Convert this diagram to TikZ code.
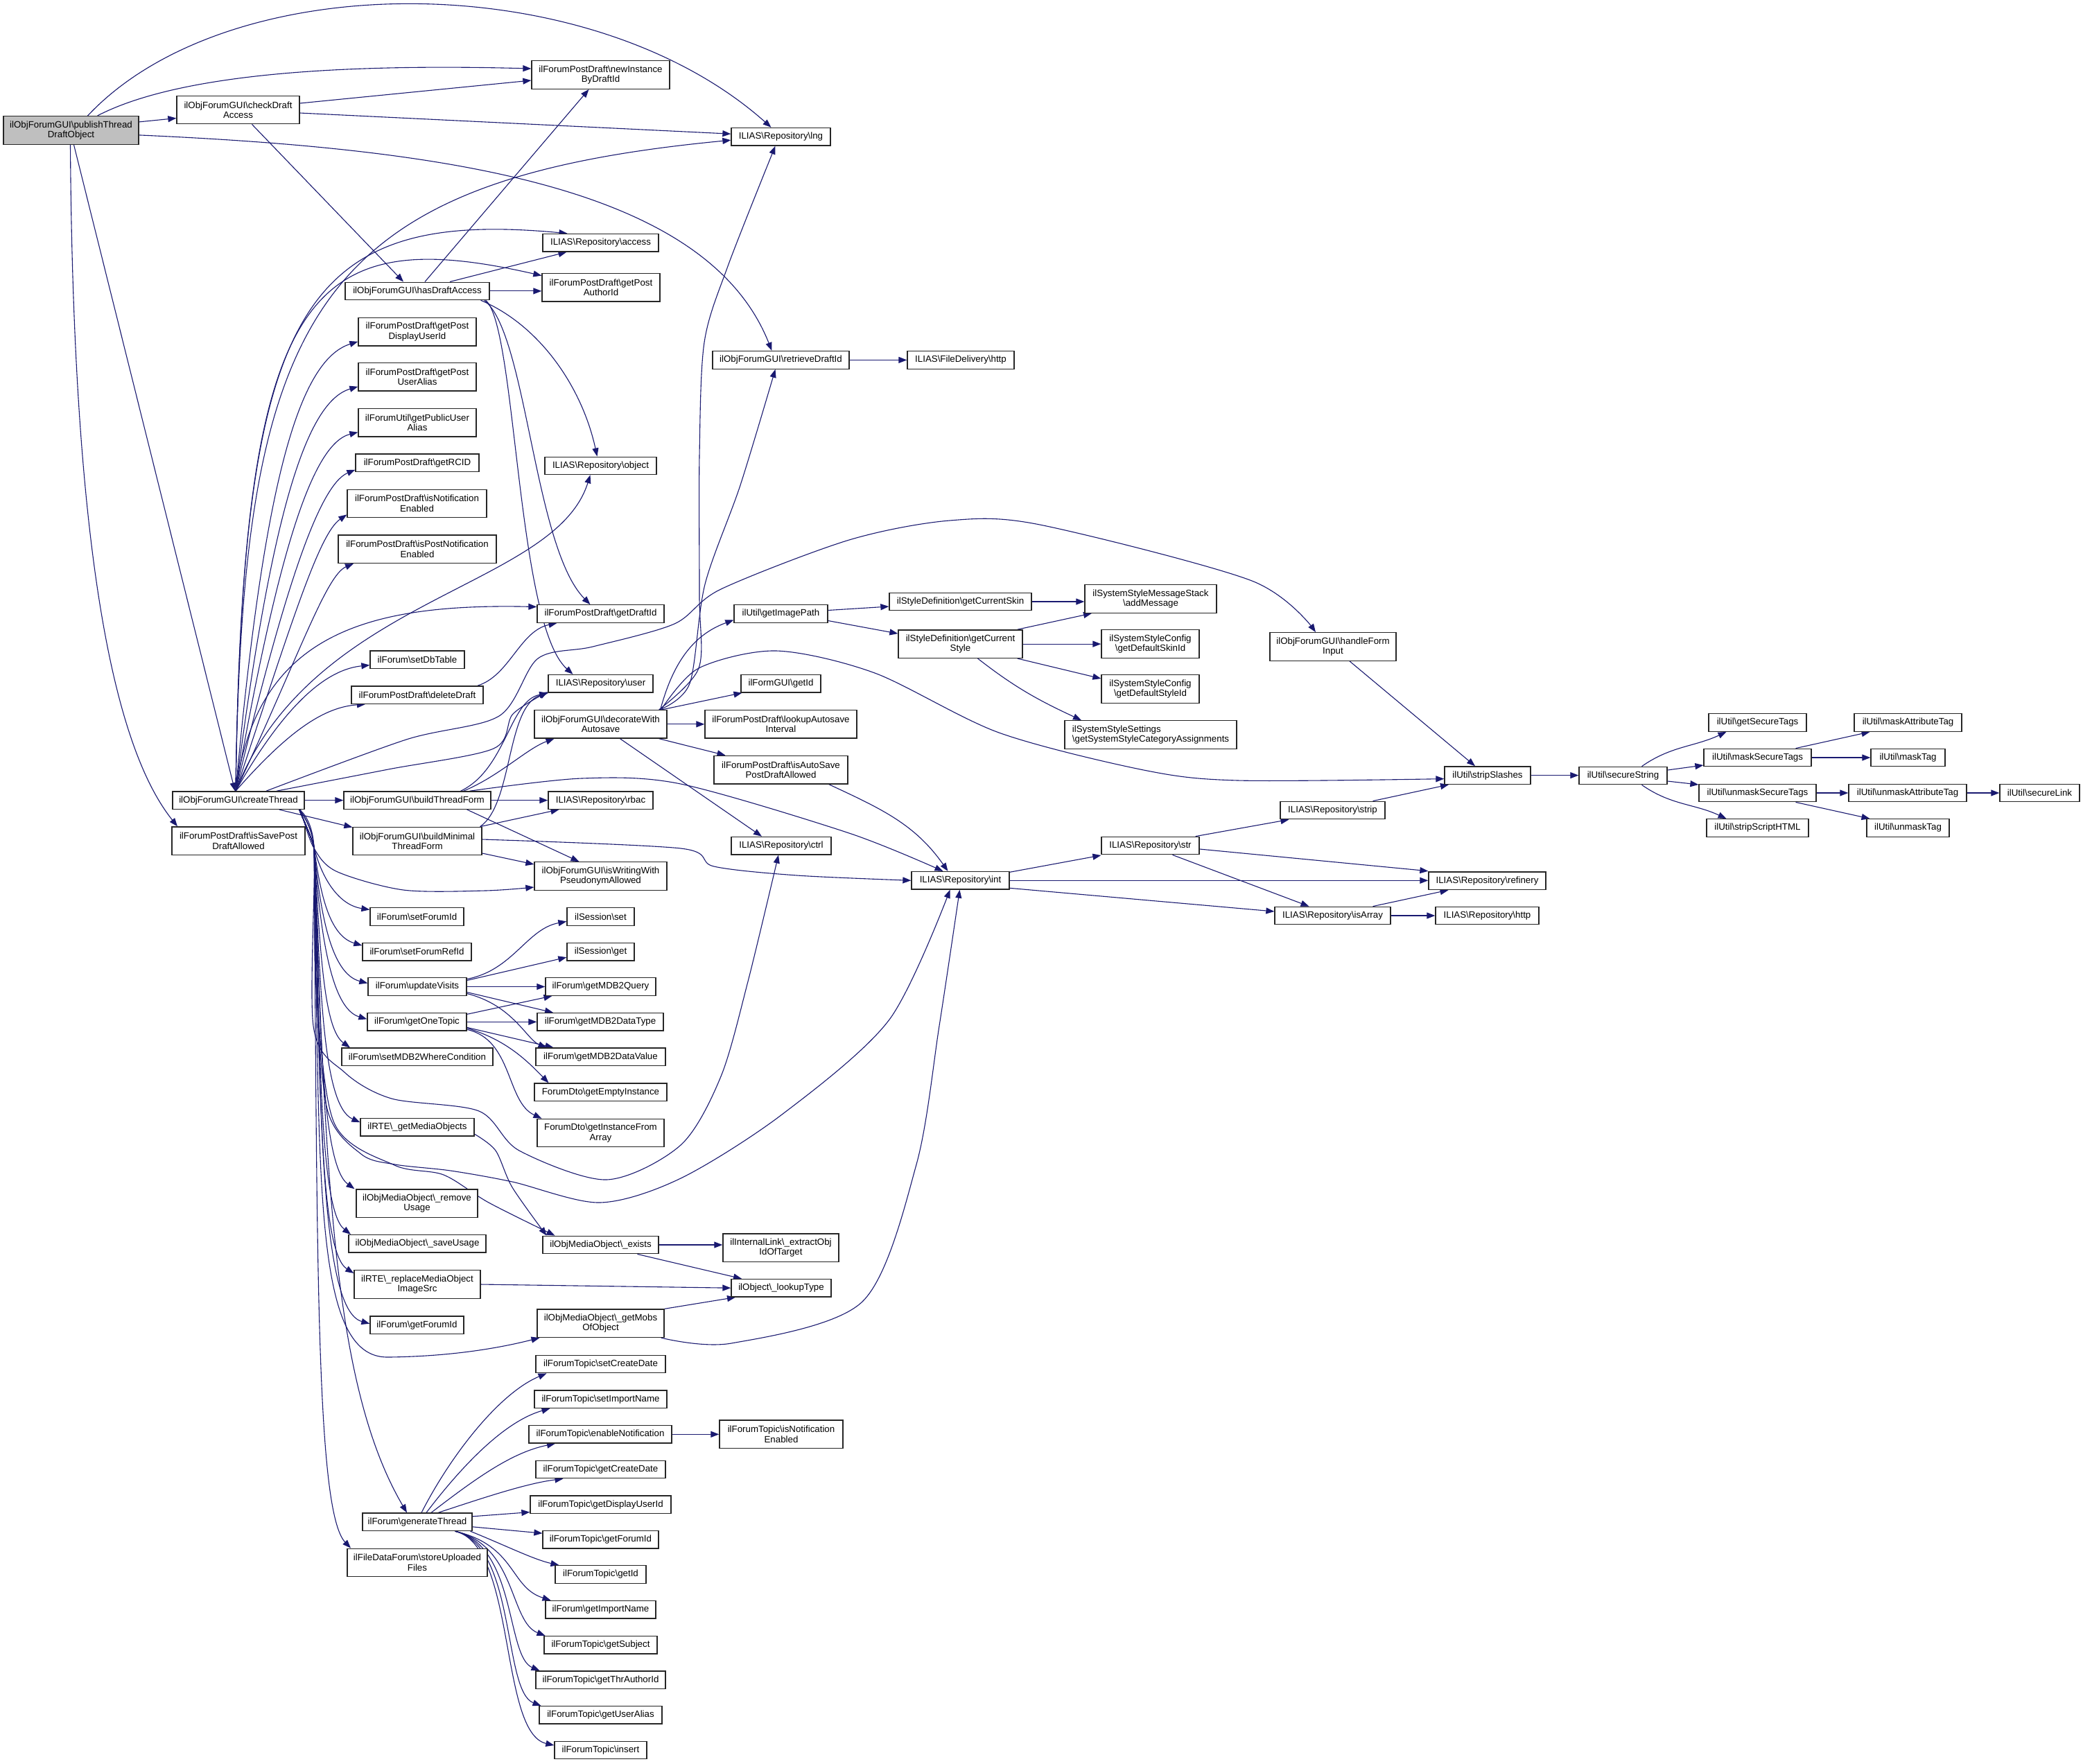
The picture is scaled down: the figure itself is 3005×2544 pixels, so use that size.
\documentclass[tikz,border=0pt]{standalone}
\usepackage{fontspec}
\setmainfont{Liberation Sans}
\usetikzlibrary{arrows.meta}
\definecolor{edgeblue}{RGB}{25,25,112}
\definecolor{hilite}{RGB}{191,191,191}
\newcommand{\bsl}{\textbackslash{}}
\pgfdeclarelayer{edges}
\pgfsetlayers{edges,main}
\tikzset{
  fun/.style={draw=black!85, line width=1.3pt, fill=white, inner sep=0pt, align=center,
    minimum height=25.5pt, font=\fontsize{13.3}{14.5}\selectfont},
  fun2/.style={fun, minimum height=40.5pt},
  callarrow/.style={draw=edgeblue, line width=1.1pt, -{Triangle[length=12pt,width=9pt]}},
}
\begin{document}
\begin{tikzpicture}[x=1pt,y=1pt]
\useasboundingbox (0,0) rectangle (3005,-2544);
% column 1
\node[fun2, minimum width=195pt, fill=hilite] (pub) at (102.5,-187.9) {ilObjForumGUI\bsl publishThread\\DraftObject};
\node[fun2, minimum width=177pt] (chk) at (343.5,-158.5) {ilObjForumGUI\bsl checkDraft\\Access};
\node[fun, minimum width=190pt] (ct) at (344,-1154.6) {ilObjForumGUI\bsl createThread};
\node[fun2, minimum width=192pt] (issp) at (344,-1213.2) {ilForumPostDraft\bsl isSavePost\\DraftAllowed};
% column 2
\node[fun, minimum width=208pt] (has) at (602,-419.9) {ilObjForumGUI\bsl hasDraftAccess};
\node[fun2, minimum width=170pt] (gpdu) at (602,-478.8) {ilForumPostDraft\bsl getPost\\DisplayUserId};
\node[fun2, minimum width=170pt] (gpua) at (602,-543.8) {ilForumPostDraft\bsl getPost\\UserAlias};
\node[fun2, minimum width=170pt] (fpua) at (602,-609.6) {ilForumUtil\bsl getPublicUser\\Alias};
\node[fun, minimum width=178pt] (rcid) at (602,-667.7) {ilForumPostDraft\bsl getRCID};
\node[fun2, minimum width=201pt] (isne) at (601.5,-726.4) {ilForumPostDraft\bsl isNotification\\Enabled};
\node[fun2, minimum width=228pt] (ispne) at (602,-792.2) {ilForumPostDraft\bsl isPostNotification\\Enabled};
\node[fun, minimum width=136pt] (setdb) at (602,-951.6) {ilForum\bsl setDbTable};
\node[fun, minimum width=190pt] (deld) at (602,-1002.6) {ilForumPostDraft\bsl deleteDraft};
\node[fun, minimum width=212pt] (btf) at (602,-1154.6) {ilObjForumGUI\bsl buildThreadForm};
\node[fun2, minimum width=186pt] (bmtf) at (602,-1213.5) {ilObjForumGUI\bsl buildMinimal\\ThreadForm};
\node[fun, minimum width=135pt] (sfid) at (601.5,-1322.4) {ilForum\bsl setForumId};
\node[fun, minimum width=157pt] (sfrid) at (601.5,-1373.1) {ilForum\bsl setForumRefId};
\node[fun, minimum width=142pt] (uv) at (602,-1423.5) {ilForum\bsl updateVisits};
\node[fun, minimum width=143pt] (got) at (601.5,-1474.3) {ilForum\bsl getOneTopic};
\node[fun, minimum width=218pt] (smwc) at (602,-1524.8) {ilForum\bsl setMDB2WhereCondition};
\node[fun, minimum width=164pt] (gmo) at (602,-1626.2) {ilRTE\bsl \_getMediaObjects};
\node[fun2, minimum width=175pt] (rmu) at (601.5,-1736.2) {ilObjMediaObject\bsl \_remove\\Usage};
\node[fun, minimum width=198pt] (svu) at (602,-1794.3) {ilObjMediaObject\bsl \_saveUsage};
\node[fun2, minimum width=182pt] (rmis) at (602,-1853) {ilRTE\bsl \_replaceMediaObject\\ImageSrc};
\node[fun, minimum width=135pt] (gfid) at (601.5,-1911.7) {ilForum\bsl getForumId};
\node[fun, minimum width=158pt] (gt) at (602,-2195.8) {ilForum\bsl generateThread};
\node[fun2, minimum width=202pt] (suf) at (602,-2254.4) {ilFileDataForum\bsl storeUploaded\\Files};
% column 3
\node[fun2, minimum width=199pt] (newinst) at (866.5,-108) {ilForumPostDraft\bsl newInstance\\ByDraftId};
\node[fun, minimum width=167pt] (access) at (866.5,-350.2) {ILIAS\bsl Repository\bsl access};
\node[fun2, minimum width=170pt] (gpai) at (867,-414.6) {ilForumPostDraft\bsl getPost\\AuthorId};
\node[fun, minimum width=161pt] (object) at (866.5,-671.9) {ILIAS\bsl Repository\bsl object};
\node[fun, minimum width=183pt] (gdid) at (866.5,-885.5) {ilForumPostDraft\bsl getDraftId};
\node[fun, minimum width=151pt] (user) at (866.5,-986.2) {ILIAS\bsl Repository\bsl user};
\node[fun2, minimum width=191pt] (deco) at (866.5,-1044.8) {ilObjForumGUI\bsl decorateWith\\Autosave};
\node[fun, minimum width=151pt] (rbac) at (866.5,-1154.6) {ILIAS\bsl Repository\bsl rbac};
\node[fun2, minimum width=191pt] (iswp) at (866.5,-1264) {ilObjForumGUI\bsl isWritingWith\\PseudonymAllowed};
\node[fun, minimum width=97pt] (sset) at (866.5,-1322.4) {ilSession\bsl set};
\node[fun, minimum width=97pt] (sget) at (866.5,-1373.1) {ilSession\bsl get};
\node[fun, minimum width=159pt] (mq) at (866.5,-1423.5) {ilForum\bsl getMDB2Query};
\node[fun, minimum width=182pt] (mdt) at (866,-1474.3) {ilForum\bsl getMDB2DataType};
\node[fun, minimum width=187pt] (mdv) at (866.5,-1524.8) {ilForum\bsl getMDB2DataValue};
\node[fun, minimum width=191pt] (gei) at (866.5,-1575.8) {ForumDto\bsl getEmptyInstance};
\node[fun2, minimum width=183pt] (gifa) at (866.5,-1634.5) {ForumDto\bsl getInstanceFrom\\Array};
\node[fun, minimum width=167pt] (exists) at (866.5,-1796) {ilObjMediaObject\bsl \_exists};
\node[fun2, minimum width=183pt] (gmob) at (866.5,-1909.2) {ilObjMediaObject\bsl \_getMobs\\OfObject};
\node[fun, minimum width=187pt] (tscd) at (866.5,-1968) {ilForumTopic\bsl setCreateDate};
\node[fun, minimum width=191pt] (tsin) at (866.5,-2018.6) {ilForumTopic\bsl setImportName};
\node[fun, minimum width=206pt] (ten) at (866,-2069.3) {ilForumTopic\bsl enableNotification};
\node[fun, minimum width=187pt] (tgcd) at (866.5,-2120) {ilForumTopic\bsl getCreateDate};
\node[fun, minimum width=203pt] (tgdu) at (866.5,-2170.6) {ilForumTopic\bsl getDisplayUserId};
\node[fun, minimum width=167pt] (tgfi) at (866.5,-2221.1) {ilForumTopic\bsl getForumId};
\node[fun, minimum width=131pt] (tgid) at (866.5,-2271.5) {ilForumTopic\bsl getId};
\node[fun, minimum width=159pt] (fgin) at (866.5,-2322.2) {ilForum\bsl getImportName};
\node[fun, minimum width=163pt] (tgsu) at (866.5,-2373.2) {ilForumTopic\bsl getSubject};
\node[fun, minimum width=187pt] (tgta) at (866.5,-2423.6) {ilForumTopic\bsl getThrAuthorId};
\node[fun, minimum width=177pt] (tgua) at (866.5,-2474.3) {ilForumTopic\bsl getUserAlias};
\node[fun, minimum width=133pt] (tins) at (866.5,-2525) {ilForumTopic\bsl insert};
% column 4
\node[fun, minimum width=143pt] (lng) at (1126.5,-197.2) {ILIAS\bsl Repository\bsl lng};
\node[fun, minimum width=197pt] (retr) at (1126.5,-519.4) {ilObjForumGUI\bsl retrieveDraftId};
\node[fun, minimum width=135pt] (gip) at (1126.5,-885.5) {ilUtil\bsl getImagePath};
\node[fun, minimum width=115pt] (fgid) at (1126.5,-986.2) {ilFormGUI\bsl getId};
\node[fun2, minimum width=219pt] (las) at (1126.5,-1044.8) {ilForumPostDraft\bsl lookupAutosave\\Interval};
\node[fun2, minimum width=193pt] (iasp) at (1126.5,-1110.6) {ilForumPostDraft\bsl isAutoSave\\PostDraftAllowed};
\node[fun, minimum width=144pt] (ctrl) at (1127,-1220.1) {ILIAS\bsl Repository\bsl ctrl};
\node[fun2, minimum width=167pt] (extr) at (1126.5,-1800.1) {ilInternalLink\bsl \_extractObj\\IdOfTarget};
\node[fun, minimum width=144pt] (lkt) at (1127,-1858.2) {ilObject\bsl \_lookupType};
\node[fun2, minimum width=178pt] (tisne) at (1127,-2069.3) {ilForumTopic\bsl isNotification\\Enabled};
% column 5 and right
\node[fun, minimum width=154pt] (fdhttp) at (1386,-519.4) {ILIAS\bsl FileDelivery\bsl http};
\node[fun, minimum width=205pt] (gcsk) at (1385.5,-868) {ilStyleDefinition\bsl getCurrentSkin};
\node[fun2, minimum width=179pt] (gcst) at (1385.5,-929.1) {ilStyleDefinition\bsl getCurrent\\Style};
\node[fun, minimum width=141pt] (int) at (1385.5,-1270.3) {ILIAS\bsl Repository\bsl int};
\node[fun2, minimum width=190pt] (addm) at (1660,-864) {ilSystemStyleMessageStack\\\bsl addMessage};
\node[fun2, minimum width=141pt] (gdsk) at (1659.5,-929) {ilSystemStyleConfig\\\bsl getDefaultSkinId};
\node[fun2, minimum width=141pt] (gdst) at (1659.5,-994) {ilSystemStyleConfig\\\bsl getDefaultStyleId};
\node[fun2, minimum width=248pt, align=left] (ssca) at (1660,-1060) {ilSystemStyleSettings\\\bsl getSystemStyleCategoryAssignments};
\node[fun, minimum width=141pt] (str) at (1659.5,-1220) {ILIAS\bsl Repository\bsl str};
\node[fun2, minimum width=182pt] (hfi) at (1923,-933) {ilObjForumGUI\bsl handleForm\\Input};
\node[fun, minimum width=151pt] (strip) at (1922.5,-1169) {ILIAS\bsl Repository\bsl strip};
\node[fun, minimum width=167pt] (isarr) at (1922.5,-1321) {ILIAS\bsl Repository\bsl isArray};
\node[fun, minimum width=124pt] (sts) at (2146,-1118.6) {ilUtil\bsl stripSlashes};
\node[fun, minimum width=169pt] (refy) at (2145.5,-1270.7) {ILIAS\bsl Repository\bsl refinery};
\node[fun, minimum width=149pt] (rhttp) at (2145.5,-1321) {ILIAS\bsl Repository\bsl http};
\node[fun, minimum width=127pt] (ss) at (2341.5,-1119) {ilUtil\bsl secureString};
\node[fun, minimum width=141pt] (gst) at (2535.5,-1042.5) {ilUtil\bsl getSecureTags};
\node[fun, minimum width=155pt] (mst) at (2535.5,-1093) {ilUtil\bsl maskSecureTags};
\node[fun, minimum width=169pt] (umst) at (2535.5,-1144) {ilUtil\bsl unmaskSecureTags};
\node[fun, minimum width=147pt] (ssh) at (2535.5,-1194.5) {ilUtil\bsl stripScriptHTML};
\node[fun, minimum width=155pt] (mat) at (2752.5,-1042.5) {ilUtil\bsl maskAttributeTag};
\node[fun, minimum width=107pt] (mtag) at (2752.5,-1093) {ilUtil\bsl maskTag};
\node[fun, minimum width=170pt] (umat) at (2752,-1144) {ilUtil\bsl unmaskAttributeTag};
\node[fun, minimum width=119pt] (umtag) at (2752.5,-1194.5) {ilUtil\bsl unmaskTag};
\node[fun, minimum width=115pt] (slink) at (2942.5,-1144) {ilUtil\bsl secureLink};

\begin{pgfonlayer}{edges}
\fill[white] (0,0) rectangle (3005,-2544);
% publishThreadDraftObject
\draw[callarrow] ([xshift=24pt]pub.north) .. controls (330,50) and (850,50) .. ([xshift=-14pt]lng.north);
\draw[callarrow] ([xshift=38pt]pub.north) .. controls (260,-105) and (500,-92) .. ([yshift=9pt]newinst.west);
\draw[callarrow] ([yshift=12pt]pub.east) -- ([yshift=-12pt]chk.west);
\draw[callarrow] ([yshift=-7pt]pub.east) .. controls (650,-215) and (1020,-270) .. ([xshift=-13pt]retr.north);
\draw[callarrow] ([xshift=4pt]pub.south) -- ([xshift=-5pt]ct.north);
\draw[callarrow] ([xshift=-1pt]pub.south) .. controls (105,-720) and (150,-1060) .. ([xshift=-88pt]issp.north);
% checkDraftAccess
\draw[callarrow] ([yshift=9.5pt]chk.east) -- ([yshift=-8pt]newinst.west);
\draw[callarrow] ([yshift=-4.5pt]chk.east) -- ([yshift=4pt]lng.west);
\draw[callarrow] ([xshift=20pt]chk.south) -- ([xshift=-20pt]has.north);
% hasDraftAccess
\draw[callarrow] ([xshift=11pt]has.north) -- ([xshift=-17pt]newinst.south);
\draw[callarrow] ([xshift=47pt]has.north) -- ([xshift=-49pt]access.south);
\draw[callarrow] (has.east) -- (has.east -| gpai.west);
\draw[callarrow] ([xshift=-13pt]has.south east) .. controls (780,-470) and (840,-560) .. ([xshift=-5pt]object.north);
\draw[callarrow] ([xshift=-8pt]has.south east) .. controls (760,-480) and (770,-790) .. ([xshift=-15pt]gdid.north);
\draw[callarrow] ([xshift=-6pt]has.south east) .. controls (745,-470) and (745,-900) .. ([xshift=-40pt]user.north);
% createThread, upwards
\draw[callarrow] ([xshift=-4pt]ct.north) .. controls (350,-450) and (450,-260) .. ([yshift=-5pt]lng.west);
\draw[callarrow] ([xshift=-4pt]ct.north) .. controls (350,-450) and (430,-300) .. ([xshift=-48pt]access.north);
\draw[callarrow] ([xshift=-4pt]ct.north) .. controls (350,-420) and (440,-320) .. ([yshift=17pt]gpai.west);
\draw[callarrow] ([xshift=-4pt]ct.north) .. controls (380,-700) and (430,-520) .. ([yshift=-14pt]gpdu.west);
\draw[callarrow] ([xshift=-4pt]ct.north) .. controls (390,-750) and (440,-580) .. ([yshift=-14pt]gpua.west);
\draw[callarrow] ([xshift=-4pt]ct.north) .. controls (400,-800) and (450,-640) .. ([yshift=-14pt]fpua.west);
\draw[callarrow] ([xshift=-4pt]ct.north) .. controls (410,-850) and (460,-700) .. ([yshift=-10pt]rcid.west);
\draw[callarrow] ([xshift=-4pt]ct.north) .. controls (420,-900) and (460,-770) .. ([yshift=-16pt]isne.west);
\draw[callarrow] ([xshift=-4pt]ct.north) .. controls (430,-950) and (470,-830) .. ([xshift=-92pt]ispne.south);
\draw[callarrow] ([xshift=-4pt]ct.north) .. controls (450,-860) and (800,-850) .. ([xshift=-15pt]object.south);
\draw[callarrow] ([xshift=-4pt]ct.north) .. controls (370,-920) and (520,-870) .. ([yshift=10pt]gdid.west);
\draw[callarrow] ([xshift=-4pt]ct.north) .. controls (420,-1000) and (480,-965) .. ([yshift=-8pt]setdb.west);
\draw[callarrow] ([xshift=-4pt]ct.north) .. controls (420,-1050) and (470,-1020) .. ([xshift=-75pt]deld.south);
\draw[callarrow] plot[smooth] coordinates {([xshift=40pt]ct.north) (586,-1067) (720,-1033) (776,-950) (855,-933) (973,-900) (1040,-850) (1225,-779) (1370,-751) (1500,-757) (1806,-838) ([xshift=-25pt]hfi.north)};
\draw[callarrow] plot[smooth] coordinates {([xshift=55pt]ct.north) (560,-1110) (712,-1080) (740,-1030) ([yshift=-12pt]user.west)};
% createThread, sideways and downwards
\draw[callarrow] (ct.east) -- (btf.west);
\draw[callarrow] ([xshift=-37pt]ct.south east) -- ([yshift=20pt]bmtf.west);
\draw[callarrow] plot[smooth] coordinates {([xshift=-6pt]ct.south east) (452,-1222) (485,-1257) (582,-1284) (700,-1285) ([yshift=-16pt]iswp.west)};
\draw[callarrow] ([xshift=-8pt]ct.south east) .. controls (441,-1190) and (449,-1208) .. (453,-1222) .. controls (462,-1260) and (485,-1305) .. ([yshift=10pt]sfid.west);
\draw[callarrow] ([xshift=-8pt]ct.south east) .. controls (441,-1190) and (449,-1208) .. (453,-1222) .. controls (462,-1290) and (475,-1350) .. ([yshift=9pt]sfrid.west);
\draw[callarrow] ([xshift=-8pt]ct.south east) .. controls (441,-1190) and (449,-1208) .. (453,-1222) .. controls (462,-1320) and (478,-1405) .. ([yshift=5pt]uv.west);
\draw[callarrow] ([xshift=-8pt]ct.south east) .. controls (441,-1190) and (449,-1208) .. (453,-1222) .. controls (462,-1350) and (478,-1455) .. ([yshift=4pt]got.west);
\draw[callarrow] ([xshift=-8pt]ct.south east) .. controls (441,-1190) and (449,-1208) .. (453,-1222) .. controls (462,-1380) and (468,-1485) .. ([xshift=-97pt]smwc.north);
\draw[callarrow] ([xshift=-8pt]ct.south east) .. controls (441,-1190) and (449,-1208) .. (453,-1222) .. controls (462,-1420) and (465,-1595) .. ([yshift=7pt]gmo.west);
\draw[callarrow] ([xshift=-8pt]ct.south east) .. controls (441,-1190) and (449,-1208) .. (453,-1222) .. controls (462,-1450) and (462,-1680) .. ([xshift=-90pt]rmu.north);
\draw[callarrow] ([xshift=-8pt]ct.south east) .. controls (441,-1190) and (449,-1208) .. (453,-1222) .. controls (462,-1500) and (460,-1745) .. ([xshift=-96pt]svu.north);
\draw[callarrow] ([xshift=-8pt]ct.south east) .. controls (441,-1190) and (449,-1208) .. (453,-1222) .. controls (462,-1550) and (460,-1805) .. ([yshift=16pt]rmis.west);
\draw[callarrow] ([xshift=-8pt]ct.south east) .. controls (441,-1190) and (449,-1208) .. (453,-1222) .. controls (462,-1600) and (462,-1890) .. ([yshift=2pt]gfid.west);
\draw[callarrow] ([xshift=-8pt]ct.south east) .. controls (441,-1190) and (449,-1208) .. (453,-1222) .. controls (462,-1700) and (450,-1960) .. (560,-1958) .. controls (650,-1957) and (720,-1945) .. ([xshift=-88pt]gmob.south);
\draw[callarrow] ([xshift=-8pt]ct.south east) .. controls (441,-1190) and (449,-1208) .. (453,-1222) .. controls (470,-1700) and (480,-2000) .. ([xshift=-15pt]gt.north);
\draw[callarrow] ([xshift=-8pt]ct.south east) .. controls (441,-1190) and (449,-1208) .. (453,-1222) .. controls (458,-1800) and (455,-2180) .. ([xshift=-96pt]suf.north);
\draw[callarrow] plot[smooth] coordinates {([xshift=-8pt]ct.south east) (453,-1222) (452,-1480) (497,-1547) (565,-1585) (691,-1603) (749,-1660) (875,-1702) (982,-1652) (1040,-1553) (1079,-1416) ([xshift=-4pt]ctrl.south)};
\draw[callarrow] plot[smooth] coordinates {([xshift=-8pt]ct.south east) (453,-1222) (455,-1400) (472,-1600) (521,-1665) (570,-1680) (650,-1689) (739,-1705) (865,-1735) (982,-1700) (1128,-1608) (1283,-1471) ([xshift=-15pt]int.south)};
\draw[callarrow] plot[smooth] coordinates {([xshift=-8pt]ct.south east) (453,-1222) (456,-1420) (482,-1620) (569,-1681) (640,-1695) (705,-1735) ([xshift=-66pt]exists.north)};
% buildThreadForm, buildMinimalThreadForm
\draw[callarrow] ([xshift=-44pt]btf.north east) .. controls (730,-1110) and (735,-1010) .. ([yshift=-14pt]user.west);
\draw[callarrow] ([xshift=-40pt]btf.north east) .. controls (720,-1120) and (760,-1080) .. ([xshift=-67pt]deco.south);
\draw[callarrow] (btf.east) -- (btf.east -| rbac.west);
\draw[callarrow] ([xshift=-35pt]btf.south east) -- ([xshift=-31pt]iswp.north);
\draw[callarrow] plot[smooth] coordinates {([xshift=-31pt]btf.north east) (839,-1123) (982,-1131) (1225,-1202) ([xshift=-25pt]int.north)};
\draw[callarrow] ([xshift=-3pt]bmtf.north east) .. controls (740,-1160) and (730,-1020) .. ([yshift=-13pt]user.west);
\draw[callarrow] ([xshift=-3pt]bmtf.north east) -- ([xshift=-60pt]rbac.south);
\draw[callarrow] ([yshift=-17.5pt]bmtf.east) -- ([yshift=17pt]iswp.west);
\draw[callarrow] plot[smooth] coordinates {([yshift=2.5pt]bmtf.east) (982,-1224) (1030,-1250) (1150,-1263) (int.west)};
% deleteDraft
\draw[callarrow] ([xshift=87pt]deld.north) .. controls (735,-975) and (750,-910) .. ([xshift=-63pt]gdid.south);
% decorateWithAutosave
\draw[callarrow] plot[smooth] coordinates {([xshift=-12pt]deco.north east) (1008,-964) (1009,-860) (1009,-658) (1016,-494) (1050,-384) ([xshift=-8pt]lng.south)};
\draw[callarrow] plot[smooth] coordinates {([xshift=-11pt]deco.north east) (995,-986) (1017,-843) (1068,-700) ([xshift=-8pt]retr.south)};
\draw[callarrow] ([xshift=-10pt]deco.north east) to[out=75,in=200] ([yshift=-9pt]gip.west);
\draw[callarrow] ([xshift=-8pt]deco.north east) -- ([xshift=-56pt]fgid.south);
\draw[callarrow] (deco.east) -- (deco.east -| las.west);
\draw[callarrow] ([xshift=-12pt]deco.south east) -- ([xshift=-80pt]iasp.north);
\draw[callarrow] ([xshift=28pt]deco.south) -- ([xshift=-28pt]ctrl.north);
\draw[callarrow] plot[smooth] coordinates {([xshift=-9pt]deco.north east) (1008,-964) (1120,-939) (1262,-971) (1441,-1057) (1650,-1111) (1786,-1126) ([yshift=-5pt]sts.west)};
% style definition
\draw[callarrow] ([yshift=5pt]gip.east) -- ([yshift=-7pt]gcsk.west);
\draw[callarrow] ([yshift=-10pt]gip.east) -- ([yshift=15pt]gcst.west);
\draw[callarrow] (gcsk.east) -- (gcsk.east -| addm.west);
\draw[callarrow] ([xshift=-8pt]gcst.north east) -- ([xshift=-85pt]addm.south);
\draw[callarrow] (gcst.east) -- (gcst.east -| gdsk.west);
\draw[callarrow] ([xshift=-8pt]gcst.south east) -- ([yshift=15pt]gdst.west);
\draw[callarrow] ([xshift=25pt]gcst.south) to[out=-38,in=155] ([xshift=-100pt]ssca.north);
% stripSlashes and secureString
\draw[callarrow] ([xshift=24pt]hfi.south) -- ([xshift=-18pt]sts.north);
\draw[callarrow] ([xshift=58pt]strip.north) -- ([xshift=-56pt]sts.south);
\draw[callarrow] (sts.east) -- (sts.east -| ss.west);
\draw[callarrow] ([xshift=27pt]ss.north) to[out=35,in=205] ([xshift=-45pt]gst.south);
\draw[callarrow] ([yshift=8pt]ss.east) -- ([yshift=-11pt]mst.west);
\draw[callarrow] ([yshift=-8pt]ss.east) -- ([yshift=12pt]umst.west);
\draw[callarrow] ([xshift=27pt]ss.south) to[out=-35,in=155] ([xshift=-45pt]ssh.north);
\draw[callarrow] ([xshift=55pt]mst.north) -- ([xshift=-55pt]mat.south);
\draw[callarrow] (mst.east) -- (mst.east -| mtag.west);
\draw[callarrow] (umst.east) -- (umst.east -| umat.west);
\draw[callarrow] ([xshift=55pt]umst.south) -- ([xshift=-55pt]umtag.north);
\draw[callarrow] (umat.east) -- (umat.east -| slink.west);
% repository
\draw[callarrow] (retr.east) -- (fdhttp.west);
\draw[callarrow] ([xshift=69pt]iasp.south) to[out=-25,in=125] ([xshift=-18pt]int.north);
\draw[callarrow] ([yshift=12pt]int.east) -- ([yshift=-14pt]str.west);
\draw[callarrow] (int.east) -- (int.east -| refy.west);
\draw[callarrow] ([yshift=-11pt]int.east) -- ([yshift=6pt]isarr.west);
\draw[callarrow] ([xshift=-6pt]str.north east) -- ([xshift=-63pt]strip.south);
\draw[callarrow] ([yshift=-5pt]str.east) -- ([yshift=14pt]refy.west);
\draw[callarrow] ([xshift=32pt]str.south) -- ([xshift=-34pt]isarr.north);
\draw[callarrow] ([xshift=58pt]isarr.north) -- ([xshift=-56pt]refy.south);
\draw[callarrow] (isarr.east) -- (rhttp.west);
% media objects
\draw[callarrow] plot[smooth] coordinates {([yshift=-10pt]gmo.east) (715,-1660) (739,-1713) ([xshift=-78pt]exists.north)};
\draw[callarrow] (exists.east) -- (exists.east -| extr.west);
\draw[callarrow] ([xshift=53pt]exists.south) -- ([xshift=-57pt]lkt.north);
\draw[callarrow] (rmis.east) -- (lkt.west);
\draw[callarrow] (gmob.north east) -- ([xshift=-66pt]lkt.south);
\draw[callarrow] plot[smooth] coordinates {([xshift=-5pt]gmob.south east) (1055,-1938) (1244,-1878) (1322,-1680) (1355,-1480) ([xshift=-1pt]int.south)};
% updateVisits, getOneTopic
\draw[callarrow] ([yshift=11pt]uv.east) .. controls (740,-1400) and (760,-1340) .. ([yshift=-7pt]sset.west);
\draw[callarrow] ([yshift=9pt]uv.east) -- ([yshift=-8pt]sget.west);
\draw[callarrow] (uv.east) -- (uv.east -| mq.west);
\draw[callarrow] ([yshift=-8pt]uv.east) -- ([xshift=-68pt]mdt.north);
\draw[callarrow] ([yshift=-10pt]uv.east) .. controls (740,-1450) and (760,-1500) .. ([xshift=-78pt]mdv.north);
\draw[callarrow] ([yshift=11pt]got.east) -- ([xshift=-70pt]mq.south);
\draw[callarrow] (got.east) -- (got.east -| mdt.west);
\draw[callarrow] ([yshift=-8pt]got.east) -- ([xshift=-68pt]mdv.north);
\draw[callarrow] ([yshift=-9pt]got.east) .. controls (730,-1500) and (760,-1530) .. ([xshift=-75pt]gei.north);
\draw[callarrow] ([yshift=-11pt]got.east) .. controls (740,-1500) and (730,-1590) .. ([xshift=-85pt]gifa.north);
% generateThread
\draw[callarrow] ([xshift=6pt]gt.north) .. controls (650,-2100) and (720,-2010) .. ([xshift=-78pt]tscd.south);
\draw[callarrow] ([xshift=13pt]gt.north) .. controls (670,-2110) and (730,-2050) .. ([xshift=-73pt]tsin.south);
\draw[callarrow] ([xshift=20pt]gt.north) .. controls (690,-2130) and (740,-2095) .. ([xshift=-65pt]ten.south);
\draw[callarrow] ([xshift=30pt]gt.north) .. controls (700,-2160) and (760,-2140) .. ([xshift=-54pt]tgcd.south);
\draw[callarrow] ([yshift=8pt]gt.east) -- ([yshift=-11pt]tgdu.west);
\draw[callarrow] ([yshift=-7pt]gt.east) -- ([yshift=9pt]tgfi.west);
\draw[callarrow] ([xshift=-3pt]gt.south east) .. controls (730,-2230) and (770,-2250) .. ([xshift=-60pt]tgid.north);
\draw[callarrow] ([xshift=-25pt]gt.south east) .. controls (745,-2230) and (735,-2290) .. ([xshift=-72pt]fgin.north);
\draw[callarrow] ([xshift=-25pt]gt.south east) .. controls (745,-2230) and (735,-2340) .. ([xshift=-80pt]tgsu.north);
\draw[callarrow] ([xshift=-25pt]gt.south east) .. controls (745,-2230) and (730,-2390) .. ([xshift=-88pt]tgta.north);
\draw[callarrow] ([xshift=-25pt]gt.south east) .. controls (745,-2230) and (725,-2440) .. ([xshift=-86pt]tgua.north);
\draw[callarrow] ([xshift=-25pt]gt.south east) .. controls (745,-2230) and (720,-2500) .. ([yshift=7pt]tins.west);
\draw[callarrow] (ten.east) -- (ten.east -| tisne.west);
\end{pgfonlayer}
\end{tikzpicture}
\end{document}
